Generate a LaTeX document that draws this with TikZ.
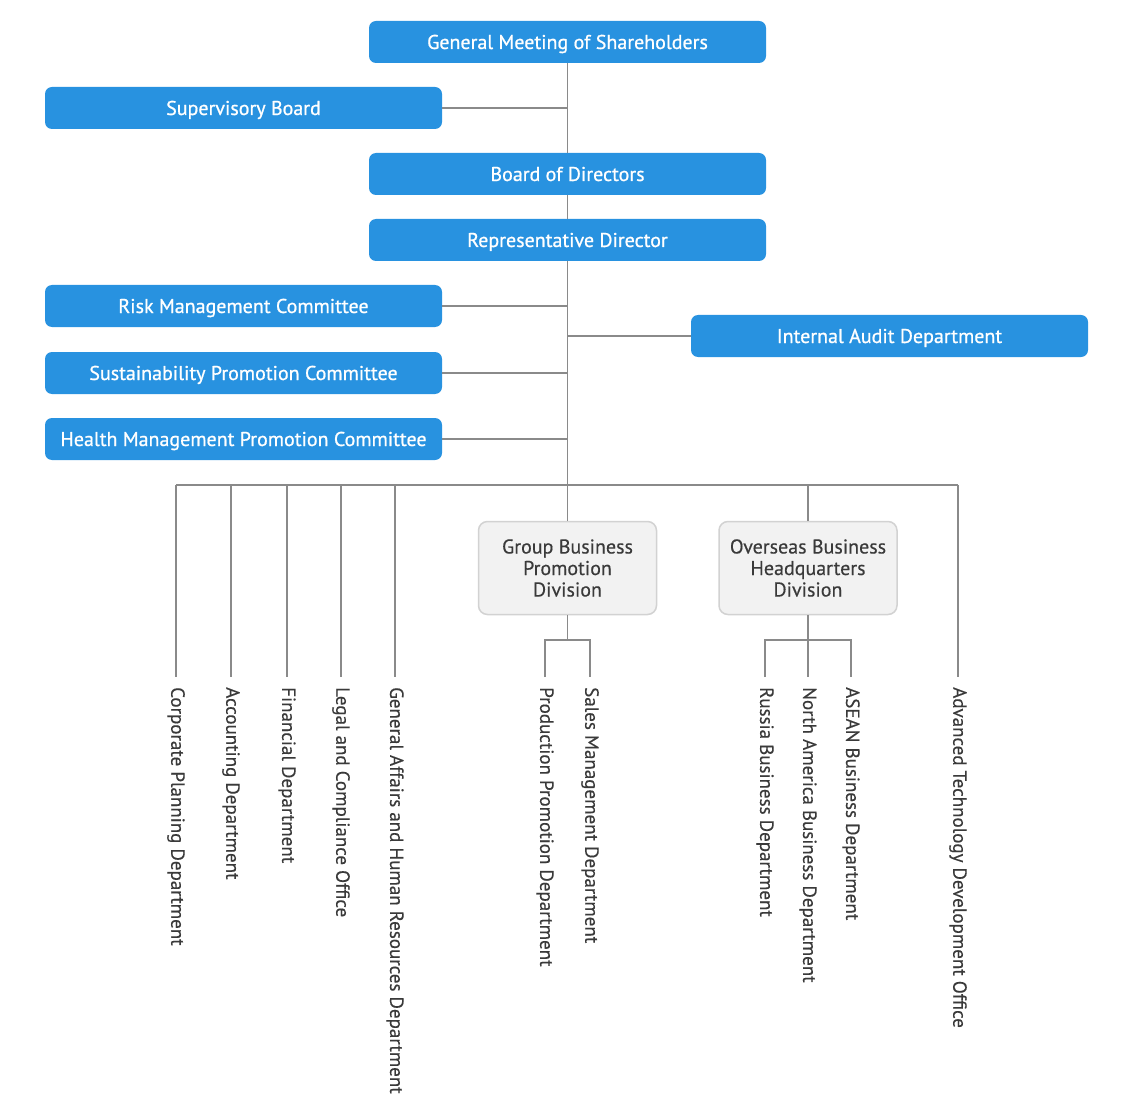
\documentclass[tikz,border=0pt]{standalone}
\usepackage{fontspec}
\setmainfont{PT Sans}
\newfontfamily\medfont{PT Sans}[FakeBold=0.8]
\newfontfamily\regfont{PT Sans}[FakeBold=0.35]
\definecolor{boxblue}{HTML}{2892E0}
\definecolor{linegray}{HTML}{8A8A8A}
\definecolor{grayfill}{HTML}{F2F2F2}
\definecolor{grayline}{HTML}{D2D2D2}
\definecolor{darktext}{HTML}{3A3A3A}
\begin{document}
\begin{tikzpicture}[x=1pt,y=-1pt,
  bluebox/.style={rectangle,rounded corners=7pt,fill=boxblue,draw=none,
    minimum width=397pt,minimum height=42pt,text=white,inner sep=0pt,
    text height=14pt,text depth=0pt,
    font=\medfont\fontsize{20}{22}\selectfont},
  graybox/.style={rectangle,rounded corners=9pt,fill=grayfill,draw=grayline,line width=1.5pt,
    minimum width=178pt,minimum height=93pt,text=darktext,align=center,inner sep=0pt,
    font=\regfont\fontsize{20}{21.5}\selectfont},
  leaf/.style={rotate=-90,anchor=west,text=darktext,inner sep=0pt,
    font=\regfont\fontsize{19}{20}\selectfont},
  conn/.style={draw=linegray,line width=1.8pt}]
\useasboundingbox (0,0) rectangle (1135,1107);
\fill[white] (0,0) rectangle (1135,1107);

% blue boxes
\node[bluebox] (gms) at (567.5,42) {General Meeting of Shareholders};
\node[bluebox] (sup) at (243.5,108) {Supervisory Board};
\node[bluebox] (bod) at (567.5,174) {Board of Directors};
\node[bluebox] (rep) at (567.5,240) {Representative Director};
\node[bluebox] (risk) at (243.5,306) {Risk Management Committee};
\node[bluebox] (sust) at (243.5,373) {Sustainability Promotion Committee};
\node[bluebox] (health) at (243.5,439) {Health Management Promotion Committee};
\node[bluebox] (audit) at (889.5,336) {Internal Audit Department};

% gray boxes
\node[graybox] (grp) at (567.5,568) {Group Business\\Promotion\\Division};
\node[graybox] (ovs) at (808,568) {Overseas Business\\Headquarters\\Division};

% coordinates
\coordinate (bus) at (567.5,485);
\coordinate (busL) at (176,485);
\coordinate (busR) at (958,485);

% leaves
\node[leaf] (l1) at (176,687) {Corporate Planning Department};
\node[leaf] (l2) at (231,687) {Accounting Department};
\node[leaf] (l3) at (287,687) {Financial Department};
\node[leaf] (l4) at (341,687) {Legal and Compliance Office};
\node[leaf] (l5) at (395,687) {General Affairs and Human Resources Department};
\node[leaf] (g1) at (545,687) {Production Promotion Department};
\node[leaf] (g2) at (590,687) {Sales Management Department};
\node[leaf] (o1) at (765,687) {Russia Business Department};
\node[leaf] (o2) at (808,687) {North America Business Department};
\node[leaf] (o3) at (851,687) {ASEAN Business Department};
\node[leaf] (l6) at (958,687) {Advanced Technology Development Office};

% main spine
\draw[conn] (gms.south) -- (bod.north);
\draw[conn] (bod.south) -- (rep.north);
\draw[conn] (rep.south) -- (grp.north);
\draw[conn] (sup.east) -- (sup.east -| gms.south);
\draw[conn] (risk.east) -- (risk.east -| rep.south);
\draw[conn] (sust.east) -- (sust.east -| rep.south);
\draw[conn] (health.east) -- (health.east -| rep.south);
\draw[conn] (audit.west) -- (audit.west -| rep.south);

% bus
\draw[conn] (busL) -- (busR);
\foreach \n in {l1,l2,l3,l4,l5,l6}{
  \draw[conn] (\n.west |- bus) -- ([yshift=10pt]\n.west);
}
\draw[conn] (ovs.north |- bus) -- (ovs.north);

% group sub
\coordinate (gj) at (567.5,640);
\draw[conn] (grp.south) -- (gj);
\draw[conn] ([yshift=10pt]g1.west) -- (g1.west |- gj) -- (g2.west |- gj) -- ([yshift=10pt]g2.west);

% overseas sub
\coordinate (oj) at (808,640);
\draw[conn] (ovs.south) -- ([yshift=10pt]o2.west);
\draw[conn] ([yshift=10pt]o1.west) -- (o1.west |- oj) -- (o3.west |- oj) -- ([yshift=10pt]o3.west);
\end{tikzpicture}
\end{document}
